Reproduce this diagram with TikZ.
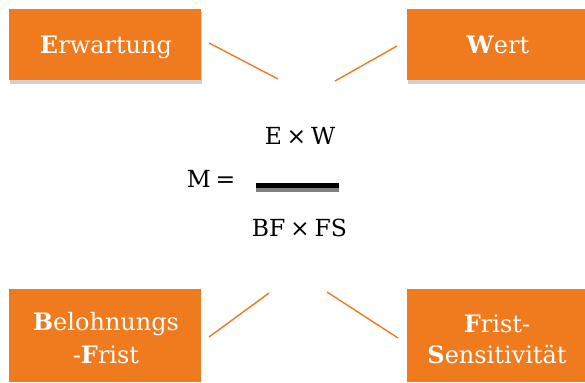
\documentclass[tikz,border=0pt]{standalone}
\usepackage{fontspec}
\setmainfont{DejaVu Serif}
\definecolor{boxorange}{RGB}{240,122,30}
\definecolor{shadowgray}{RGB}{208,208,212}
\definecolor{bargray}{RGB}{128,128,128}
\newcommand{\tsp}{\hspace{0.2em}}
\tikzset{
  card/.style={fill=boxorange, draw=none, inner sep=0pt},
  cardshadow/.style={fill=shadowgray, draw=none},
  cardtext/.style={text=white, font=\fontsize{24}{33}\selectfont, anchor=base, inner sep=0pt, align=center},
  formula/.style={font=\fontsize{23.5}{30}\selectfont, anchor=base, inner sep=0pt},
  spoke/.style={draw=boxorange, line width=1.4pt},
}
\begin{document}
\begin{tikzpicture}[x=1pt, y=-1pt]
\useasboundingbox (0,0) rectangle (585,382);

% drop shadows of the upper cards
\fill[cardshadow] (10,12) rectangle (202,84);
\fill[cardshadow] (408,12) rectangle (585,84);

% the four cards
\node[card, minimum width=192pt, minimum height=71pt] (erw) at (105,44.5) {};
\node[card, minimum width=178pt, minimum height=71pt] (wert) at (496,44.5) {};
\node[card, minimum width=192pt, minimum height=93pt] (bf) at (105,335.5) {};
\node[card, minimum width=178pt, minimum height=93pt] (fs) at (496,335.5) {};

% card labels
\node[cardtext] (erwlabel) at (106,54) {\textbf{E}rwartung};
\node[cardtext] (wertlabel) at (498,54) {\textbf{W}ert};
\node[cardtext] (bflabel1) at (106,330) {\textbf{B}elohnungs};
\node[cardtext] (bflabel2) at (106,363) {-\textbf{F}rist};
\node[cardtext] (fslabel1) at (497,332) {\textbf{F}rist-};
\node[cardtext] (fslabel2) at (497,363) {\textbf{S}ensitivität};

% spokes pointing to the formula
\coordinate (s1a) at (209,43);  \coordinate (s1b) at (278,79);
\coordinate (s2a) at (397,46);  \coordinate (s2b) at (335,81);
\coordinate (s3a) at (209,337); \coordinate (s3b) at (269,293);
\coordinate (s4a) at (327,292); \coordinate (s4b) at (398,338);
\draw[spoke] (s1a) -- (s1b);
\draw[spoke] (s2a) -- (s2b);
\draw[spoke] (s3a) -- (s3b);
\draw[spoke] (s4a) -- (s4b);

% the formula
\node[formula] (lhs) at (211,187) {M\tsp=};
\node[formula] (num) at (300,144) {E\tsp×\tsp W};
\node[formula] (den) at (299.5,236) {BF\tsp×\tsp FS};
\fill[black] (256,183.3) rectangle (339,188.3);
\fill[bargray] (256,188.3) rectangle (339,192);
\end{tikzpicture}
\end{document}
